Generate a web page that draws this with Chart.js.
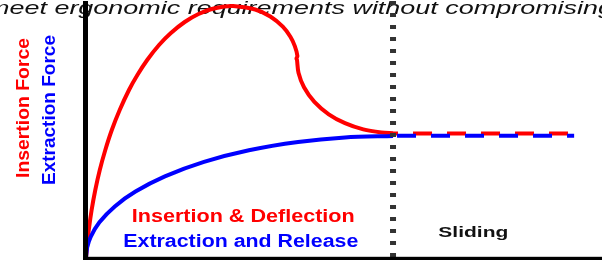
<!DOCTYPE html>
<html>
<head>
<meta charset="utf-8">
<script src="https://cdn.jsdelivr.net/npm/chart.js@4.4.1/dist/chart.umd.min.js"></script>
<style>
html,body{margin:0;padding:0;background:#fff;overflow:hidden;}
#wrap{position:relative;width:602px;height:260px;}
</style>
</head>
<body>
<div id="wrap"><canvas id="c"></canvas></div>
<script>
// ---- data (arbitrary units: x = displacement 0..100, y = force 0..100) ----
const insertionX = [0.00, 0.23, 0.54, 1.09, 1.80, 2.67, 3.74, 5.00, 6.53, 8.33, 9.96, 11.86, 14.15, 16.45, 19.13, 21.80, 24.38, 26.82, 28.49, 32.79, 35.72, 38.14, 39.61, 40.47, 40.97, 40.79, 40.89, 41.18, 42.25, 44.26, 47.05, 50.19, 53.74, 57.23, 59.50];
const insertionY = [0.00, 5.04, 10.85, 18.60, 26.36, 34.11, 41.86, 49.61, 57.36, 65.12, 70.93, 76.74, 82.56, 87.21, 91.47, 94.57, 96.51, 97.48, 97.67, 96.32, 93.60, 89.65, 85.74, 82.13, 78.33, 77.33, 76.74, 71.82, 66.16, 60.50, 55.70, 52.25, 49.84, 48.64, 48.33];
const extractionX = [0, 0.23, 0.91, 2.60, 5.58, 9.59, 15.29, 22.87, 31.57, 41.10, 50.19, 59.50];
const extractionY = [0, 4.11, 8.22, 13.84, 20.00, 25.74, 31.63, 37.25, 41.74, 44.96, 46.71, 47.29];
const slideInsX = [59.5, 93.8];
const slideInsY = [48.3, 48.3];
const slideExtX = [59.5, 94.6];
const slideExtY = [47.4, 47.4];
const boundaryX = [59.5, 59.5];
const boundaryY = [100, 0];

const titleText = "meet ergonomic requirements without compromising";
const yLabelInsertion = "Insertion Force";
const yLabelExtraction = "Extraction Force";
const legendInsertion = "Insertion & Deflection";
const legendExtraction = "Extraction and Release";
const slidingLabel = "Sliding";

const RED = "#ff0000", BLUE = "#0000ff";
const toPts = (xs, ys) => xs.map((x, i) => ({x: x, y: ys[i]}));

function stretchText(ctx, text, font, color, x, y, targetW, rotate) {
  ctx.save();
  ctx.font = font;
  ctx.fillStyle = color;
  ctx.textBaseline = "alphabetic";
  ctx.textAlign = "left";
  const w = ctx.measureText(text).width;
  ctx.translate(x, y);
  if (rotate) ctx.rotate(-Math.PI / 2);
  ctx.scale(targetW / w, 1);
  ctx.fillText(text, 0, 0);
  ctx.restore();
}

const decor = {
  id: "decor",
  beforeDatasetsDraw(chart) {
    const ctx = chart.ctx;
    stretchText(ctx, titleText, "italic 19px 'Liberation Sans', Arial, sans-serif", "#111", -13, 13.6, 626, false);
  },
  afterDatasetsDraw(chart) {
    const ctx = chart.ctx;
    const xs = chart.scales.x, ys = chart.scales.y;
    const x0 = xs.getPixelForValue(0), y0 = ys.getPixelForValue(0);
    ctx.save();
    ctx.fillStyle = "#000";
    ctx.fillRect(x0 - 3, 1, 5, y0 + 2 - 1);
    ctx.fillRect(x0 - 3, y0 - 1.2, chart.width - (x0 - 3), 3.4);
    ctx.restore();
    const bold18 = "bold 18px 'Liberation Sans', Arial, sans-serif";
    stretchText(ctx, legendInsertion, bold18, RED, 131.7, 221.7, 223, false);
    stretchText(ctx, legendExtraction, bold18, BLUE, 123.3, 246.7, 235, false);
    stretchText(ctx, slidingLabel, "bold 15px 'Liberation Sans', Arial, sans-serif", "#111", 438.3, 237.3, 70, false);
    stretchText(ctx, yLabelInsertion, bold18, RED, 29.3, 178, 140, true);
    stretchText(ctx, yLabelExtraction, bold18, BLUE, 55, 185, 150, true);
  }
};

new Chart(document.getElementById("c"), {
  type: "scatter",
  data: {
    datasets: [
      {data: toPts(boundaryX, boundaryY), showLine: true, borderColor: "#333", borderWidth: 6,
       borderDash: [4, 8], borderDashOffset: 11, borderCapStyle: "butt", pointRadius: 0, order: 0, tension: 0},
      {data: toPts(slideInsX, slideInsY), showLine: true, borderColor: RED, borderWidth: 4,
       borderDash: [19, 15], borderDashOffset: 14, borderCapStyle: "butt", pointRadius: 0, order: 2, tension: 0},
      {data: toPts(slideExtX, slideExtY), showLine: true, borderColor: BLUE, borderWidth: 4,
       borderDash: [19, 15], borderDashOffset: 30, borderCapStyle: "butt", pointRadius: 0, order: 1, tension: 0},
      {data: toPts(insertionX, insertionY), showLine: true, borderColor: RED, borderWidth: 4,
       pointRadius: 0, tension: 0.3, borderJoinStyle: "round", order: 4},
      {data: toPts(extractionX, extractionY), showLine: true, borderColor: BLUE, borderWidth: 4,
       pointRadius: 0, tension: 0.3, borderJoinStyle: "round", order: 3}
    ]
  },
  options: {
    responsive: true,
    maintainAspectRatio: false,
    animation: false,
    events: [],
    layout: {padding: {left: 86, right: 0, top: 0, bottom: 2}},
    plugins: {legend: {display: false}, tooltip: {enabled: false}, title: {display: false}},
    scales: {
      x: {type: "linear", display: false, min: 0, max: 100},
      y: {type: "linear", display: false, min: 0, max: 100}
    }
  },
  plugins: [decor]
});
</script>
</body>
</html>
